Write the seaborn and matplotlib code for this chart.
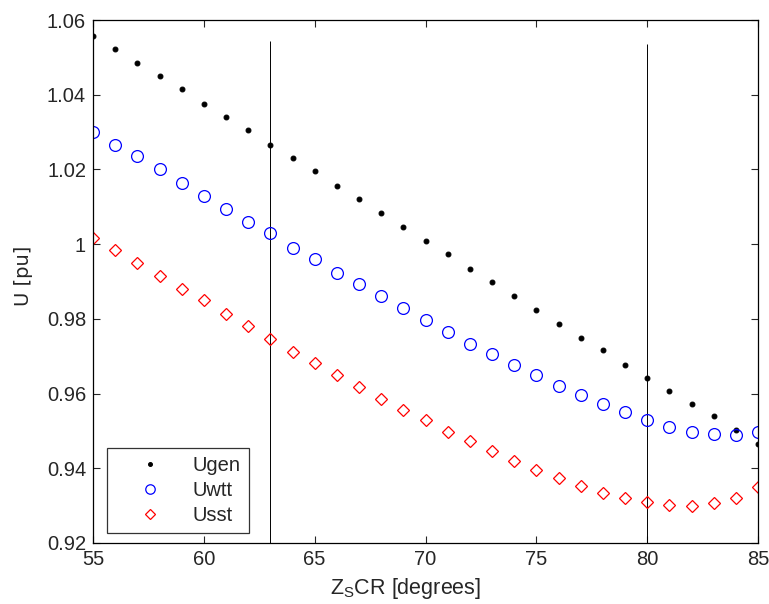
import matplotlib
matplotlib.use("Agg")
import matplotlib.pyplot as plt
import numpy as np
import pandas as pd
import seaborn as sns
from matplotlib.ticker import FuncFormatter, MultipleLocator

# short-circuit angle [degrees]
zs_cr = list(range(55, 86))

u_gen = [1.0557, 1.0522, 1.0485, 1.0450, 1.0415, 1.0375, 1.0340, 1.0305,
         1.0265, 1.0231, 1.0195, 1.0156, 1.0121, 1.0083, 1.0047, 1.0008,
         0.9973, 0.9934, 0.9899, 0.9860, 0.9825, 0.9786, 0.9750, 0.9716,
         0.9677, 0.9642, 0.9607, 0.9571, 0.9540, 0.9502, 0.9465]
u_wtt = [1.0300, 1.0265, 1.0235, 1.0200, 1.0163, 1.0130, 1.0095, 1.0060,
         1.0030, 0.9990, 0.9959, 0.9924, 0.9892, 0.9860, 0.9828, 0.9797,
         0.9766, 0.9733, 0.9705, 0.9676, 0.9649, 0.9620, 0.9595, 0.9571,
         0.9550, 0.9529, 0.9511, 0.9496, 0.9493, 0.9489, 0.9496]
u_sst = [1.0016, 0.9985, 0.9950, 0.9915, 0.9880, 0.9850, 0.9813, 0.9780,
         0.9745, 0.9711, 0.9681, 0.9649, 0.9617, 0.9585, 0.9557, 0.9528,
         0.9498, 0.9473, 0.9447, 0.9420, 0.9395, 0.9373, 0.9352, 0.9335,
         0.9320, 0.9309, 0.9303, 0.9299, 0.9307, 0.9321, 0.9349]

# vertical marker lines
vline_x = [63, 80]
vline_top = [1.0544, 1.0535]

df = pd.DataFrame({"zs_cr": zs_cr, "Ugen": u_gen, "Uwtt": u_wtt, "Usst": u_sst})

sns.set_theme(style="ticks")
plt.rcParams["font.family"] = ["Liberation Sans", "DejaVu Sans"]
plt.rcParams["mathtext.fontset"] = "custom"
plt.rcParams["mathtext.rm"] = "Liberation Sans"

fig = plt.figure(figsize=(7.69, 6.04), dpi=100)
ax = fig.add_axes([93 / 769, 61 / 604, 665 / 769, 523 / 604])

ax.vlines(vline_x, 0.92, vline_top, color="black", linewidth=0.7, zorder=1)

sns.lineplot(data=df, x="zs_cr", y="Ugen", ax=ax, linestyle="", marker=".",
             markersize=7, color="black", markeredgecolor="black", label="Ugen")
sns.lineplot(data=df, x="zs_cr", y="Uwtt", ax=ax, linestyle="", marker="o",
             markersize=8.5, markerfacecolor="none", markeredgecolor="blue",
             markeredgewidth=0.9, color="blue", label="Uwtt")
sns.lineplot(data=df, x="zs_cr", y="Usst", ax=ax, linestyle="", marker="D",
             markersize=6, markerfacecolor="none", markeredgecolor="red",
             markeredgewidth=0.9, color="red", label="Usst")

ax.set_xlim(55, 85)
ax.set_ylim(0.92, 1.06)
ax.xaxis.set_major_locator(MultipleLocator(5))
ax.yaxis.set_major_locator(MultipleLocator(0.02))
ax.yaxis.set_major_formatter(FuncFormatter(lambda v, p: f"{v:.2f}".rstrip("0").rstrip(".")))
ax.tick_params(direction="in", top=True, right=True, labelsize=14.5, length=5, width=0.8)
ax.tick_params(axis="y", pad=5)
ax.tick_params(axis="x", pad=5)
for side in ax.spines.values():
    side.set_visible(True)
    side.set_linewidth(0.9)
    side.set_color("black")

ax.set_xlabel(r"$\mathrm{Z_S}$CR [degrees]", fontsize=15.5)
ax.xaxis.set_label_coords(0.47, -0.063, transform=ax.transAxes)
ax.xaxis.label.set_va("top")
ax.set_ylabel("U [pu]", fontsize=14, family="DejaVu Sans")
ax.yaxis.set_label_coords(-0.09, 0.51, transform=ax.transAxes)

leg = ax.legend(loc="lower left", bbox_to_anchor=(14 / 665, 10 / 523), borderaxespad=0,
                fontsize=14.5, frameon=True, fancybox=False, edgecolor="black",
                handlelength=3.5, handletextpad=0.35, borderpad=0.4, labelspacing=0.3,
                markerscale=0.8)
leg.get_frame().set_linewidth(0.9)

fig.savefig("out.png", dpi=100)
